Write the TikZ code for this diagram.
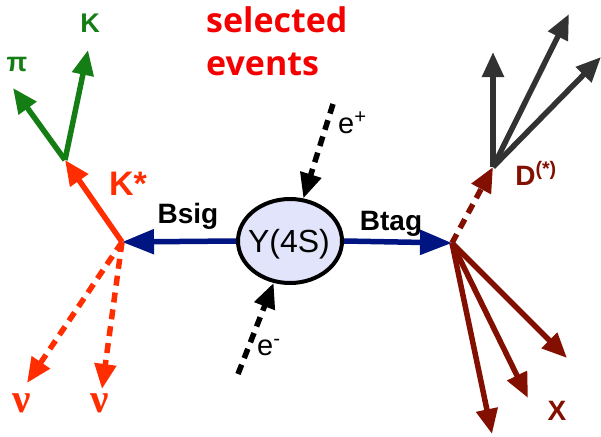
\documentclass[tikz,border=0pt]{standalone}
\usepackage{fontspec}
\setmainfont{Liberation Sans}
\newfontfamily\titlefont{Open Sans}
\newfontfamily\greekfont{Liberation Serif}
\usetikzlibrary{arrows.meta,shapes.geometric}
\definecolor{kred}{RGB}{255,45,0}
\definecolor{selred}{RGB}{245,0,0}
\definecolor{kgreen}{RGB}{20,125,20}
\definecolor{navy}{RGB}{0,20,130}
\definecolor{dred}{RGB}{130,15,0}
\definecolor{dgray}{RGB}{50,50,50}
\definecolor{yfill}{RGB}{225,228,250}
\tikzset{
  arr/.style={line width=5.5pt,-{Triangle[length=25pt,width=21pt]}},
  dsh/.style={dash pattern=on 10pt off 7pt},
  lbl/.style={font=\bfseries\fontsize{28}{30}\selectfont,inner sep=0pt,anchor=base},
  seltext/.style={inner sep=0pt,anchor=base west,text=selred,font=\titlefont\bfseries\fontsize{34}{40}\selectfont},
}
\begin{document}
\begin{tikzpicture}[x=1pt,y=-1pt]
\useasboundingbox (0,0) rectangle (601,436);
% vertices
\coordinate (bsig) at (122,242);
\coordinate (btag) at (452,243);
\coordinate (kst) at (65,160);
\coordinate (pi) at (13,88);
\coordinate (kk) at (88,50);
\coordinate (nu1) at (27,383);
\coordinate (nu2) at (102,389);
\coordinate (dst) at (493,167);
\coordinate (d1) at (493,52);
\coordinate (d2) at (569,14);
\coordinate (d3) at (601,57);
\coordinate (x1) at (567,358);
\coordinate (x2) at (528,398);
\coordinate (x3) at (492,434);
\coordinate (ep) at (333,104);
\coordinate (em) at (238,374);
% Y(4S)
\node[ellipse,draw=black,line width=4pt,fill=yfill,minimum width=104pt,minimum height=84pt,inner sep=0pt] (y4s) at (290,241) {};
\node[inner sep=0pt,anchor=base,font=\fontsize{32}{34}\selectfont] (ly4s) at (289,252) {Y(4S)};
% B arrows
\draw[navy,line width=5.5pt,-{Triangle[length=32pt,width=24pt]}] (y4s.west) -- (bsig);
\draw[navy,line width=5.5pt,-{Triangle[length=32pt,width=24pt]}] (y4s.east) -- (btag);
% beams
\draw[arr,dsh,black] (ep) -- (y4s);
\draw[arr,dsh,black] (em) -- (y4s);
% signal side
\draw[arr,kred] (bsig) -- (kst);
\draw[arr,kgreen] (kst) -- (pi);
\draw[arr,kgreen] (kst) -- (kk);
\draw[arr,dsh,kred] (bsig) -- (nu1);
\draw[arr,dsh,kred] (bsig) -- (nu2);
% tag side
\draw[arr,dsh,dred] (btag) -- (dst);
\draw[arr,dgray] (dst) -- (d1);
\draw[arr,dgray] (dst) -- (d2);
\draw[arr,dgray] (dst) -- (d3);
\draw[arr,dred] (btag) -- (x1);
\draw[arr,dred] (btag) -- (x2);
\draw[arr,dred] (btag) -- (x3);
% labels
\node[lbl] (lbsig) at (188,223) {Bsig};
\node[lbl] (lbtag) at (391,230) {Btag};
\node[lbl,kred,font=\bfseries\fontsize{34}{36}\selectfont] (lkst) at (128,195) {K*};
\node[lbl,kgreen,font=\bfseries\fontsize{27}{29}\selectfont] (lk) at (90,33) {K};
\node[lbl,kgreen,font=\bfseries\fontsize{27}{29}\selectfont] (lpi) at (17,71) {π};
\node[lbl,kred,font=\greekfont\bfseries\fontsize{41}{43}\selectfont] (lnu1) at (22,412) {ν};
\node[lbl,kred,font=\greekfont\bfseries\fontsize{41}{43}\selectfont] (lnu2) at (100,412) {ν};
\node[inner sep=0pt,anchor=base west,font=\fontsize{29}{31}\selectfont] (lep) at (338,133) {e\textsuperscript{+}};
\node[inner sep=0pt,anchor=base west,font=\fontsize{29}{31}\selectfont] (lem) at (257,355) {e\textsuperscript{-}};
\node[lbl,dred] (ld) at (536,185) {D\textsuperscript{(*)}};
\node[lbl,dred] (lx) at (557,420) {X};
\node[seltext] (sel1) at (206,33) {selected};
\node[seltext] (sel2) at (206,75) {events};
\end{tikzpicture}
\end{document}
